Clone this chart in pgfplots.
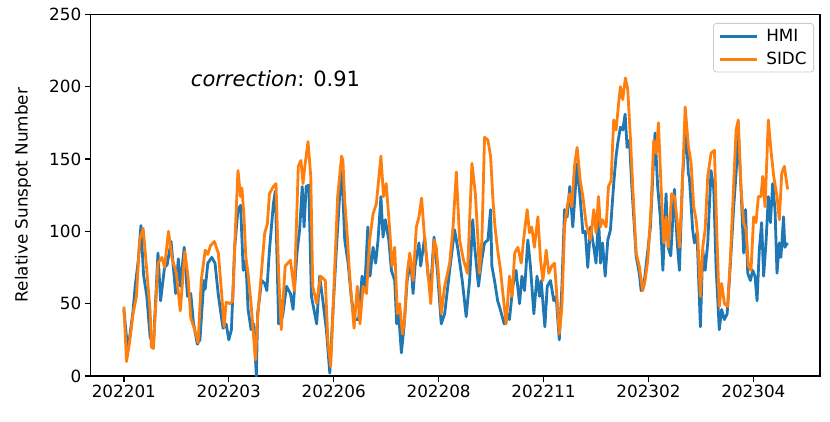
\documentclass[border=0pt]{standalone}
\usepackage{fontspec}
\setmainfont{DejaVu Sans}
\usepackage{pgfplots}
\pgfplotsset{compat=1.18}
\usepackage{pgfplotstable}
\definecolor{tabblue}{HTML}{1F77B4}
\definecolor{taborange}{HTML}{FF7F0E}

\pgfplotstableread{
x y
0 46
3 17
7 45
8.6 62
11 80
13 104
15 70
17.5 55
20 27
22.5 21
26 85
28 52
31 75
33 77
36 93
39.5 57
41.5 81
43 62
46 89
48.5 55
51 57
53 37
56 22
58 25
61 66
62 60
64 78
67 82
69.5 78
72 56
75.6 33
78 36
80 25
82 32
84.5 89
87 115
89 118
91 73
93 80
94.7 46
97 32
99 36
101 0
102 43
105 66
107.4 64
109 59
111 87
114 119
115.5 128
118 36
121 41
124 62
127 57
129 46
132 85
134 101
136 131
137.4 103
139 131
141 132
143 55
147 36
149.3 69
152 50
154.4 32
157 2
159.5 46
162 87
166 147
168.4 94
171 78
173.5 53
176.5 39
179 39
181.6 69
183.6 59
186 103
187.7 69
190 89
192 78
193.8 94
196 124
197.6 96
199.4 108
202 94
204 73
206.5 66
208 36
209.5 43
211.6 16
213.6 34
216 66
218.7 80
220.5 57
222 76
225 92
226.3 76
229.4 96
232 69
234 62
236.5 96
239 73
242 36
244.6 43
248.4 73
252.2 101
254.8 87
258 66
261 41
263.6 66
266 108
267.5 89
270.4 62
272.5 78
275 92
277.6 94
279.6 115
280.6 76
282.6 66
285 52
287 46
290 36
292.3 43
294 39
296.6 62
299 73
301.7 50
303.5 69
305.5 59
308 94
310 76
312.6 43
315 69
317 55
318.2 66
321 34
322.8 62
325.3 66
327.8 52
329.6 55
332 25
334 62
336 115
338 110
340 131
342.3 103
345.6 147
348 122
350 99
351.8 100
353.7 75
355.8 103
358.3 89
360 78
361.9 110
363.4 78
365 92
367 69
369 94
371 101
373.5 133
375.3 152
376.6 161
378.6 172
380.4 170
382.2 181
383.7 158
385.5 163
387.3 131
390.6 83
393 71
394.4 59
396.4 62
399 83
401.5 103
403.3 138
405 168
407 131
409 110
411 73
413.4 126
415 89
417 83
419.8 129
421.8 94
423.6 73
426 138
428.7 172
430.4 140
431.2 137
433.7 101
435 92
437 99
439.6 34
441.4 87
443.2 73
445.2 92
447.7 142
449.8 129
451.5 76
454 32
455.8 46
457.9 39
460 43
462.5 78
465 117
466.8 140
468.5 168
470.6 129
472.6 85
474 115
475.7 71
477.7 66
479.5 73
481.2 69
482.8 52
484.5 87
486.3 106
487.8 69
489.6 92
491.4 124
493 106
494.7 133
496.5 115
498 71
499.8 92
501 82
503 110
504 89
506 92
}\hmi

\pgfplotstableread{
x y
0 48
2 10
4.6 25
7 43
9.6 55
12 94
14.7 102
17 78
20 45
21 20
22.5 19
26 78
29 82
31 75
34 100
36.6 82
40 71
43 45
46.5 86
49 68
51 40
54 32
56.6 23
59 66
62 87
64 84
66 90
69 93
72 85
74.4 59
76.4 34
78 51
81 50
83 52
85 101
87 142
89 124
90 130
91.6 110
93 82
94.7 71
97 50
98.5 32
100.3 11
102 41
105 73
107.4 99
109.4 105
111 126
114 131
116 133
118 71
120 32
123 76
125 78
127 80
130 59
133 145
135 149
136.6 133
138 145
140.4 162
142.5 138
144 62
147 50
150 69
153.6 66
155.6 23
157.7 6.5
160 57
163 124
166 152
167 149
168.5 120
170.4 96
172.2 69
175.5 33
178 62
180 36
182.4 62
185 57
187.4 94
190 112
192.5 119
196 152
198 124
200 133
202.7 101
204.5 76
206.5 89
208.5 43
210.3 50
212.4 29
214 39
216 71
218 85
220.5 66
223 103
225 110
227 123
229.4 94
231.4 76
234 50
236.5 94
238.2 89
241 57
242 43
244.6 62
248.4 78
251 103
253.5 141
256 94
259 80
262 71
265.4 147
268 126
270 94
271 71
273 94
275 165
277.6 163
279.6 152
281.4 122
283 103
285 87
287.2 73
289 57
291.5 36
294 69
296 55
298 85
300.4 89
303 78
305 96
307.5 115
309.3 99
311 103
313 89
315.7 110
317.7 80
319.5 66
322 87
324 71
326.3 76
328.4 78
330.4 52
332 29
334 48
336 103
338 117
340 126
341.6 117
343.6 145
345.6 158
348 135
350 124
352.5 105
355.8 94
358.3 115
360 99
361.9 124
363.4 103
365 108
367.7 103
369.5 131
371.5 135
373.5 177
375.3 170
377 186
378.6 200
380.4 191
382.4 206
384.2 198
386.2 165
388 131
390.6 85
393 76
395.6 59
397.4 66
399.5 80
402 117
404 163
406 154
407.6 175
409.6 131
411.6 92
413.4 110
415.2 89
417.7 126
419.8 124
421.8 108
423.6 89
425.4 122
428 186
430.4 159
432.5 147
434.5 117
436.3 108
437.6 96
439.6 55
441.4 89
443.2 101
445.2 138
447.7 154
450.3 156
452.3 94
454 48
455.8 64
457.9 50
460.4 48
462.5 82
465 133
466.8 170
468.5 177
470.6 129
472.6 106
474.4 101
476.2 76
478.2 73
480.2 110
482 106
483.8 124
485.8 124
487.1 138
488.9 117
491.4 177
493.4 156
495.5 138
498 124
499.8 108
501.6 140
503.6 145
506.1 129
}\sidc

\begin{document}
\begin{tikzpicture}
\useasboundingbox (0,0) rectangle (830pt,421pt);
\begin{axis}[
  at={(90.7pt,45pt)}, anchor=south west,
  scale only axis, width=729.3pt, height=361.7pt,
  xmin=-25.3, xmax=530.8, ymin=0, ymax=250,
  xtick={0,80,...,480},
  xticklabels={202201,202203,202206,202208,202211,202302,202304},
  ytick={0,50,...,250},
  tick align=outside, major tick length=5.9pt,
  tick style={black, line width=1.3pt},
  axis line style={line width=1.4pt},
  xtick pos=bottom, ytick pos=left,
  every tick label/.append style={font=\fontsize{16.8}{20}\selectfont},
  /pgf/number format/assume math mode=true,
  ylabel={Relative Sunspot Number},
  ylabel style={font=\fontsize{16.8}{20}\selectfont, at={(axis description cs:-0.093,0.5)}, anchor=center},
  legend style={at={(rel axis cs:0.9918,0.976)}, anchor=north east, draw=black!20, rounded corners=3pt,
    font=\fontsize{16.8}{20}\selectfont, inner xsep=5pt, inner ysep=4pt, row sep=5pt, line width=0.8pt},
  legend cell align=left,
  legend image code/.code={\draw[#1, line width=2.8pt] (0pt,0pt) -- (37pt,0pt); \path (43pt,0pt);},
]
\addplot[tabblue, line width=2.8pt, line join=round] table[x=x,y=y] {\hmi};
\addlegendentry{HMI}
\addplot[taborange, line width=2.8pt, line join=round] table[x=x,y=y] {\sidc};
\addlegendentry{SIDC}
\node[anchor=base west, font=\fontsize{21}{25}\selectfont, inner sep=0pt] at (axis cs:51,200) {\textit{correction}: 0.91};
\end{axis}
\end{tikzpicture}
\end{document}
